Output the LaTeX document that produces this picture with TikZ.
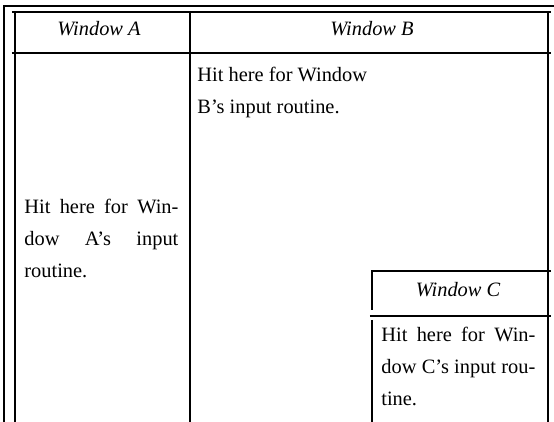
\documentclass[tikz,border=0pt]{standalone}
\usepackage{fontspec}
\setmainfont{Liberation Serif}
\begin{document}
\begin{tikzpicture}[x=0.5pt,y=-0.5pt,
  rule/.style={line width=0.75pt,black},
  title/.style={anchor=base,inner sep=0pt,font=\fontsize{10.2pt}{16pt}\selectfont\itshape},
  body/.style={anchor=base west,inner sep=0pt,font=\fontsize{10.2pt}{16pt}\selectfont}]
\useasboundingbox (0,0) rectangle (554,422);
\begin{scope}
\clip (0,0) rectangle (554,422);
% outer screen frame
\draw[rule] (4,422) -- (4,6) -- (554,6);
% windows A and B
\draw[rule] (15,422) -- (15,11);
\draw[rule] (12,12) -- (551,12);
\draw[rule] (548,11) -- (548,422);
\draw[rule] (12,53) -- (551,53);
\draw[rule] (190,11) -- (190,422);
% window C overlapping B
\draw[rule] (372,310) -- (372,271) -- (551,271);
\draw[rule] (370,316) -- (551,316);
\draw[rule] (372,320) -- (372,422);
\end{scope}
% headers
\node[title] (labA) at (99,36) {Window A};
\node[title] (labB) at (372,36) {Window B};
\node[title] (labC) at (458,297) {Window C};
% window B input text
\node[body] (b1) at (197,82) {Hit here for Window};
\node[body] (b2) at (197,114) {B’s input routine.};
% window A input text
\node[body] (a1) at (24,214) {\makebox[77pt][s]{Hit here for Win-}};
\node[body] (a2) at (24,246) {\makebox[77pt][s]{dow A’s input}};
\node[body] (a3) at (24,278) {routine.};
% window C input text
\node[body] (c1) at (381,342) {\makebox[77pt][s]{Hit here for Win-}};
\node[body] (c2) at (381,374) {\makebox[77pt][s]{dow C’s input rou-}};
\node[body] (c3) at (381,406) {tine.};
\end{tikzpicture}
\end{document}
